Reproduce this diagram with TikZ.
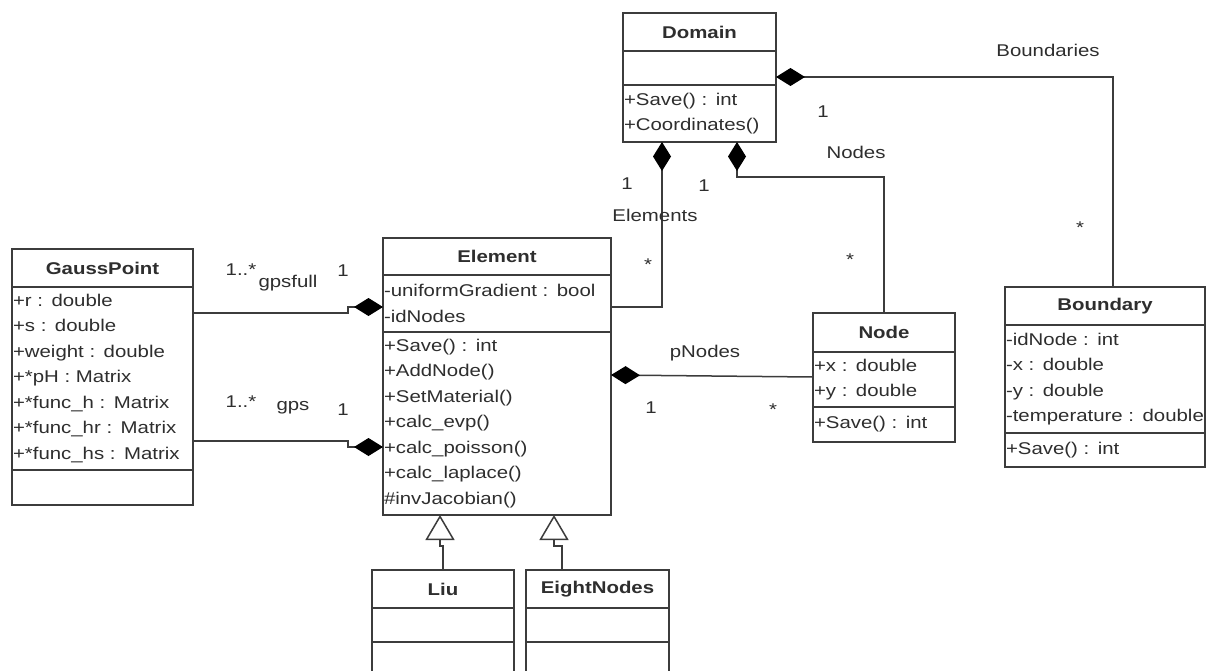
\documentclass[tikz,border=0pt]{standalone}
\usepackage{fontspec}
\newfontfamily\umlfont{Liberation Sans}[FakeStretch=1.2]
\usetikzlibrary{positioning,arrows.meta}

\definecolor{umlline}{HTML}{3C3C3C}
\definecolor{umltext}{HTML}{2E2E2E}
\newcommand{\umlsize}{\umlfont\fontsize{17}{25.5}\selectfont}

\tikzset{
  classtitle/.style={draw=umlline, line width=1.5pt, font=\umlsize\bfseries, text=umltext,
    anchor=north west, inner sep=0pt, outer sep=0pt},
  classpart/.style={draw=umlline, line width=1.5pt, font=\umlsize, text=umltext,
    below=0pt of #1, inner xsep=1pt, inner ysep=0pt, outer sep=0pt, align=left},
  compose/.style={draw=umlline, line width=1.5pt, arrows={Diamond[length=29pt,width=18pt,color=black]-}},
  inherit/.style={draw=umlline, line width=1.5pt, arrows={-Triangle[open,length=25pt,width=29pt]}},
  lbl/.style={font=\umlsize, text=umltext, inner sep=0pt}
}

\begin{document}
\begin{tikzpicture}[x=1pt,y=-1pt]

  \fill[white] (0,0) rectangle (1217,671);
  \useasboundingbox (0,0) rectangle (1217,671);

  % classes
  \node[classtitle, minimum width=153, minimum height=38] (domtitle) at (623,13) {Domain};
  \node[classpart=domtitle, text width=151, minimum height=34] (domattr) {};
  \node[classpart=domattr, text width=151, minimum height=57] (dommeth) {+Save() : int\\+Coordinates()};

  \node[classtitle, minimum width=181, minimum height=38] (gausstitle) at (12,249) {GaussPoint};
  \node[classpart=gausstitle, text width=179, minimum height=183] (gaussattr)
    {+r : double\\+s : double\\+weight : double\\+*pH : Matrix\\+*func\_h : Matrix\\+*func\_hr : Matrix\\+*func\_hs : Matrix};
  \node[classpart=gaussattr, text width=179, minimum height=35] (gaussmeth) {};

  \node[classtitle, minimum width=228, minimum height=37] (elemtitle) at (383,238) {Element};
  \node[classpart=elemtitle, text width=226, minimum height=57] (elemattr) {-uniformGradient : bool\\-idNodes};
  \node[classpart=elemattr, text width=226, minimum height=183] (elemmeth)
    {+Save() : int\\+AddNode()\\+SetMaterial()\\+calc\_evp()\\+calc\_poisson()\\+calc\_laplace()\\\#invJacobian()};

  \node[classtitle, minimum width=142, minimum height=39] (nodetitle) at (813,313) {Node};
  \node[classpart=nodetitle, text width=140, minimum height=55] (nodeattr) {+x : double\\+y : double};
  \node[classpart=nodeattr, text width=140, minimum height=35] (nodemeth) {+Save() : int};

  \node[classtitle, minimum width=200, minimum height=38] (bndtitle) at (1005,287) {Boundary};
  \node[classpart=bndtitle, text width=198, minimum height=108] (bndattr)
    {-idNode : int\\-x : double\\-y : double\\-temperature : double};
  \node[classpart=bndattr, text width=198, minimum height=34] (bndmeth) {+Save() : int};

  \node[classtitle, minimum width=142, minimum height=38] (liutitle) at (372,570) {Liu};
  \node[classpart=liutitle, text width=140, minimum height=34] (liuattr) {};
  \node[classpart=liuattr, text width=140, minimum height=48] (liumeth) {};

  \node[classtitle, minimum width=143, minimum height=38] (eighttitle) at (526,570) {EightNodes};
  \node[classpart=eighttitle, text width=141, minimum height=34] (eightattr) {};
  \node[classpart=eightattr, text width=141, minimum height=48] (eightmeth) {};

  % compositions
  \draw[compose] ([xshift=39pt]dommeth.south west) |- ([yshift=-3.5pt]elemattr.east);
  \draw[compose] ([xshift=114pt]dommeth.south west) -- ++(0,35) -| (nodetitle.north);
  \draw[compose] ([yshift=-9pt]domattr.east) -| ([xshift=8pt]bndtitle.north);
  \draw[compose] ([yshift=-3.5pt]elemattr.west) -- ++(-35,0) |- ([yshift=65.5pt]gaussattr.east);
  \draw[compose] ([yshift=-23.5pt]elemmeth.west) -- ++(-35,0) |- ([yshift=-62.5pt]gaussattr.east);
  \draw[compose] ([yshift=48.5pt]elemmeth.east) -- ([yshift=2.5pt]nodeattr.west);

  % generalisations
  \draw[inherit] (liutitle.north) -- ++(0,-24) -- ++(-3,0) coordinate (liujog) -- (liujog |- elemmeth.south);
  \draw[inherit] ([xshift=-35.5pt]eighttitle.north) -- ++(0,-24) -- ++(-8,0) coordinate (eightjog) -- (eightjog |- elemmeth.south);

  % role names and multiplicities
  \node[lbl] (bndrole) at (1048,50) {Boundaries};
  \node[lbl] (bndone) at (823,112) {1};
  \node[lbl] (bndmany) at (1080,228) {*};
  \node[lbl] (noderole) at (856,152) {Nodes};
  \node[lbl] (nodeone) at (704,186) {1};
  \node[lbl] (nodemany) at (850,260) {*};
  \node[lbl] (elemrole) at (655,215) {Elements};
  \node[lbl] (elemone) at (627,184) {1};
  \node[lbl] (elemmany) at (648,265) {*};
  \node[lbl] (gpsfullmany) at (241,270) {1..*};
  \node[lbl] (gpsfullrole) at (288,283) {gpsfull};
  \node[lbl] (gpsfullone) at (343,271) {1};
  \node[lbl] (gpsmany) at (241,402) {1..*};
  \node[lbl] (gpsrole) at (293,408) {gps};
  \node[lbl] (gpsone) at (343,410) {1};
  \node[lbl] (prole) at (705,353) {pNodes};
  \node[lbl] (pone) at (651,408) {1};
  \node[lbl] (pmany) at (773,410) {*};

\end{tikzpicture}
\end{document}
